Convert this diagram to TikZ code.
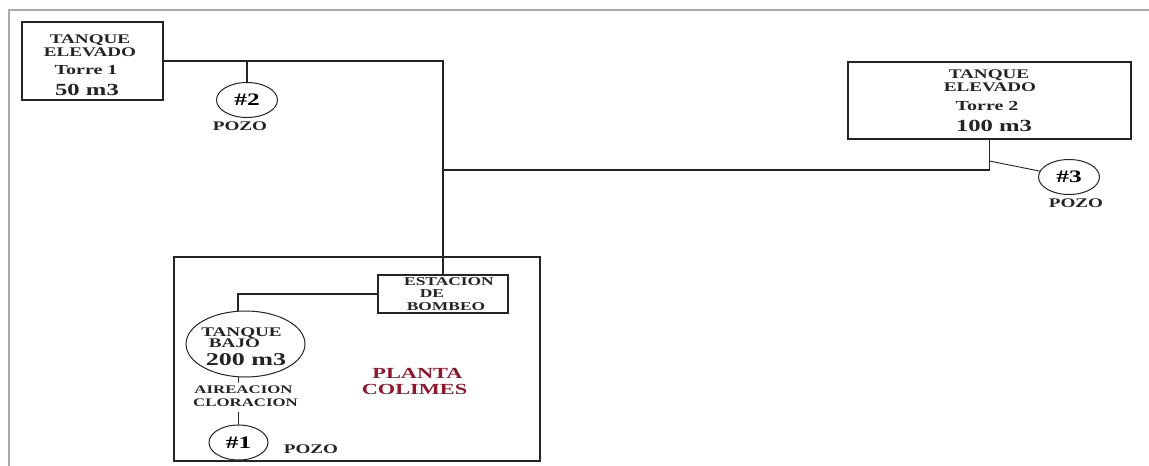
\documentclass[tikz,border=0pt]{standalone}
\usepackage{fontspec}
\setmainfont[FakeStretch=1.45]{Liberation Serif}
\usetikzlibrary{positioning,shapes.geometric}
\definecolor{pipeblack}{RGB}{35,35,40}
\definecolor{plantared}{RGB}{140,25,45}
\definecolor{framegray}{RGB}{170,170,170}
\newcommand{\lblfont}[1]{\bfseries\fontsize{#1}{#1}\selectfont}

\begin{document}
\begin{tikzpicture}[x=1pt,y=-1pt,line cap=round,
 pipe/.style={draw=pipeblack,line width=1.2pt},
 tankbox/.style={draw=pipeblack,line width=1.5pt,inner sep=0pt},
 wellnode/.style={ellipse,draw=pipeblack,line width=1pt,inner sep=0pt,
  minimum width=61pt,minimum height=35pt,font=\lblfont{17.5}},
 lbl/.style={anchor=base,inner sep=0pt,text=pipeblack,font=\lblfont{#1}},
 lbl/.default=13.2]
\useasboundingbox (0,0) rectangle (1149,466);
\draw[framegray,line width=2pt] (9,466)--(9,10)--(1149,10);
% tanque elevado 1 y pozo 2
\node[tankbox,minimum width=141pt,minimum height=78pt] (tank1) at (92.5,61) {};
\node[lbl] (t1a) at (90,43) {TANQUE};
\node[lbl] (t1b) at (90,56) {ELEVADO};
\node[lbl=13.8] (t1c) at (86,74) {Torre 1};
\node[lbl=17] (t1d) at (87,95) {50 m3};
\node[wellnode] (pozo2) at (247,100) {\#2};
\node[lbl] (p2lbl) at (240,130) {POZO};
% tanque elevado 2 y pozo 3
\node[tankbox,minimum width=283pt,minimum height=77pt] (tank2) at (989.5,100.5) {};
\node[lbl] (t2a) at (989,78) {TANQUE};
\node[lbl] (t2b) at (990,91) {ELEVADO};
\node[lbl=13.8] (t2c) at (987,110) {Torre 2};
\node[lbl=17] (t2d) at (994,131) {100 m3};
\node[wellnode] (pozo3) at (1069,177) {\#3};
\node[lbl] (p3lbl) at (1076,207) {POZO};
% planta colimes
\node[tankbox,line width=1.3pt,minimum width=366pt,minimum height=204pt] (planta) at (357,359) {};
\node[tankbox,minimum width=130pt,minimum height=38pt] (estacion) at (443,294) {};
\node[lbl=12] (e1) at (449,285) {ESTACION};
\node[lbl=12] (e2) at (432,297) {DE};
\node[lbl=12] (e3) at (446,310) {BOMBEO};
\node[wellnode,minimum width=119pt,minimum height=66pt] (bajo) at (245.5,344) {};
\node[lbl] (b1) at (241.5,336) {TANQUE};
\node[lbl] (b2) at (234.5,347) {BAJO};
\node[lbl=18] (b3) at (246,365) {200 m3};
\node[lbl=11.6] (aire) at (243.5,393) {AIREACION};
\node[lbl=11.6] (clor) at (245.5,406) {CLORACION};
\node[wellnode,minimum width=59pt] (pozo1) at (238.5,442.5) {\#1};
\node[lbl] (p1lbl) at (311,453) {POZO};
\node[lbl=15.4,text=plantared] (pl1) at (417.5,378) {PLANTA};
\node[lbl=15.4,text=plantared] (pl2) at (414.5,394) {COLIMES};
% tuberias
\coordinate (j3) at (443,170);
\coordinate (j4) at (989.5,161);
\coordinate (j5) at (238,294);
\draw[pipe] (tank1.east) -| (estacion.north);
\draw[pipe] (pozo2.north) -- (pozo2.north |- tank1.east);
\draw[pipe] (j3) -| (tank2.south);
\draw[pipe,line width=.9pt] (j4) -- (pozo3);
\draw[pipe] (estacion.west) -- (j5) -- (j5 |- bajo.north);
\draw[pipe] (bajo.south -| pozo1.north) -- ([yshift=3pt]aire.north -| pozo1.north);
\draw[pipe] ([yshift=-6pt]clor.south -| pozo1.north) -- (pozo1.north);
\end{tikzpicture}
\end{document}
